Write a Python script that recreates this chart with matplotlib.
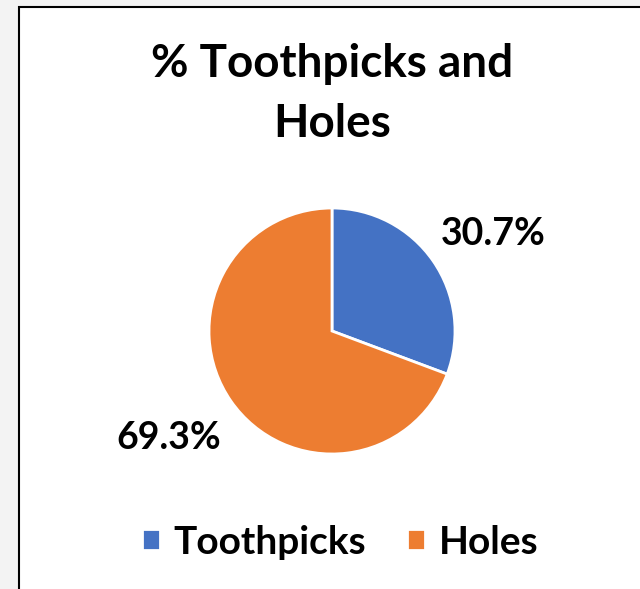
import matplotlib.pyplot as plt
from matplotlib.patches import Rectangle

labels = ['Toothpicks', 'Holes']
values = [30.7, 69.3]
colors = ['#4472C4', '#ED7D31']

plt.rcParams['font.family'] = ['Lato', 'DejaVu Sans']

W, H = 640, 589
fig = plt.figure(figsize=(W / 100, H / 100), dpi=100)
fig.patch.set_facecolor('#f3f3f3')

# chart area box (runs off the right and bottom edges like the screenshot)
fig.patches.append(Rectangle((19 / W, -0.05), 1.0, 1 - 7 / H + 0.05,
                             transform=fig.transFigure, facecolor='white',
                             edgecolor='black', linewidth=1.5, zorder=-5))

# pie axes: centre (332, 331), radius 123 px
cx, cy, r = 332, 331, 123
ax = fig.add_axes([(cx - r) / W, 1 - (cy + r) / H, 2 * r / W, 2 * r / H])
wedges, texts, autotexts = ax.pie(values, colors=colors, startangle=90,
                                  counterclock=False, autopct='%1.1f%%',
                                  pctdistance=1.55,
                                  wedgeprops=dict(edgecolor='white', linewidth=2),
                                  textprops=dict(fontsize=27, fontweight='bold'))
# data labels sit a bit off the wedge bisector in the original
autotexts[0].set_position((1.31, 0.79))
autotexts[1].set_position((-1.33, -0.87))
ax.set_xlim(-1, 1)
ax.set_ylim(-1, 1)
ax.set_aspect('equal')

fig.text(cx / W, 1 - 94 / H, '% Toothpicks and\nHoles', ha='center', va='center',
         fontsize=33, fontweight='bold', linespacing=1.55)

fig.legend(wedges, labels, loc='center', bbox_to_anchor=(340 / W, 1 - 542 / H),
           ncol=2, frameon=False, handlelength=0.47, handleheight=0.47,
           handletextpad=0.35, columnspacing=1.05,
           prop=dict(size=28, weight='bold'))

fig.savefig('out.png', dpi=100)
